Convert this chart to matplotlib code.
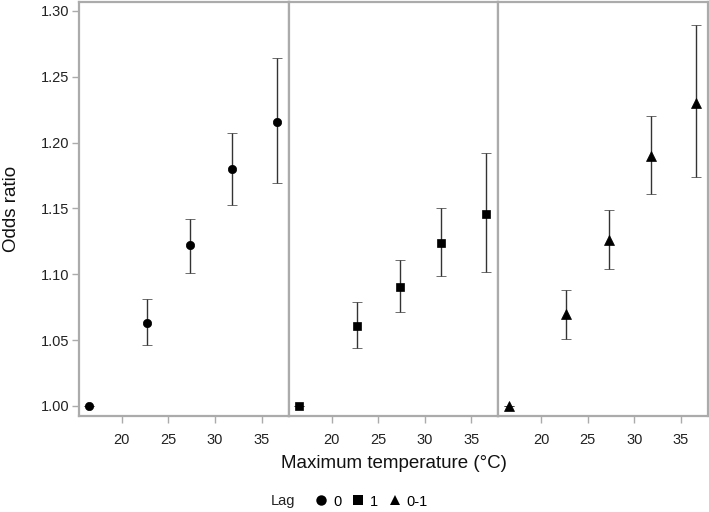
import matplotlib
matplotlib.use("Agg")
import matplotlib.pyplot as plt
from matplotlib.lines import Line2D

plt.rcParams['font.family'] = ['Liberation Sans', 'DejaVu Sans']

temps = [16.5, 22.7, 27.3, 31.8, 36.6]
lags = ["0", "1", "0-1"]
markers = ["o", "s", "^"]

or_lag0 = [1.000, 1.063, 1.122, 1.180, 1.216]
lo_lag0 = [1.000, 1.046, 1.101, 1.153, 1.169]
hi_lag0 = [1.000, 1.081, 1.142, 1.207, 1.264]

or_lag1 = [1.000, 1.061, 1.090, 1.124, 1.146]
lo_lag1 = [1.000, 1.044, 1.071, 1.099, 1.102]
hi_lag1 = [1.000, 1.079, 1.111, 1.150, 1.192]

or_lag01 = [1.000, 1.070, 1.126, 1.190, 1.230]
lo_lag01 = [1.000, 1.051, 1.104, 1.161, 1.174]
hi_lag01 = [1.000, 1.088, 1.149, 1.220, 1.289]

xticks = [20, 25, 30, 35]
yticks = [1.00, 1.05, 1.10, 1.15, 1.20, 1.25, 1.30]

series = [(or_lag0, lo_lag0, hi_lag0), (or_lag1, lo_lag1, hi_lag1), (or_lag01, lo_lag01, hi_lag01)]

fig = plt.figure(figsize=(7.09, 5.12), dpi=100)
gs = fig.add_gridspec(1, 3, left=79/709, right=708/709, top=1-2/512, bottom=1-416/512, wspace=0)
axes = [fig.add_subplot(gs[0, i]) for i in range(3)]
gray = "#ababab"
msizes = [6, 5.5, 6.5]
for i, ax in enumerate(axes):
    o, lo, hi = series[i]
    yerr = [[a - b for a, b in zip(o, lo)], [c - a for a, c in zip(o, hi)]]
    ax.errorbar(temps, o, yerr=yerr, fmt=markers[i], color="black", ecolor="#333333",
                elinewidth=1.0, capsize=3.3, capthick=1.0, markersize=msizes[i],
                markeredgecolor="black", markeredgewidth=0.5, zorder=3)
    ax.set_xlim(15.4, 37.9)
    ax.set_ylim(0.9924, 1.3068)
    ax.set_xticks(xticks)
    ax.set_xticklabels([str(t) for t in xticks], fontsize=10.5)
    for s in ax.spines.values():
        s.set_color(gray)
        s.set_linewidth(1.6)
    ax.tick_params(axis='both', colors=gray, labelcolor="#222222", length=5, width=1.0, direction='out')
    ax.tick_params(axis='x', pad=7.5)
    if i == 0:
        ax.set_yticks(yticks)
        ax.set_yticklabels([f"{v:.2f}" for v in yticks], fontsize=10.5)
        ax.tick_params(axis='y', pad=2)
        ax.set_ylabel("Odds ratio", fontsize=13.5, color="#111111", labelpad=15)
    else:
        ax.set_yticks([])
        ax.tick_params(axis='y', left=False, labelleft=False)

fig.text(393.5/709, 1-463/512, "Maximum temperature (°C)", ha="center", va="center", fontsize=13.5, color="#111111")
fig.text(282.5/709, 1-501.5/512, "Lag", ha="center", va="center", fontsize=10.5, color="#222222")
handles = [Line2D([], [], marker=m, linestyle="none", color="black", markersize=7.5, markeredgewidth=0) for m in markers]
fig.legend(handles, lags, loc="center left", bbox_to_anchor=(314/709, 1-501.5/512), ncol=3, frameon=False,
           fontsize=10.5, handletextpad=0.3, columnspacing=0.65, handlelength=1.0, borderpad=0, borderaxespad=0)

fig.savefig("out.png", dpi=100)
